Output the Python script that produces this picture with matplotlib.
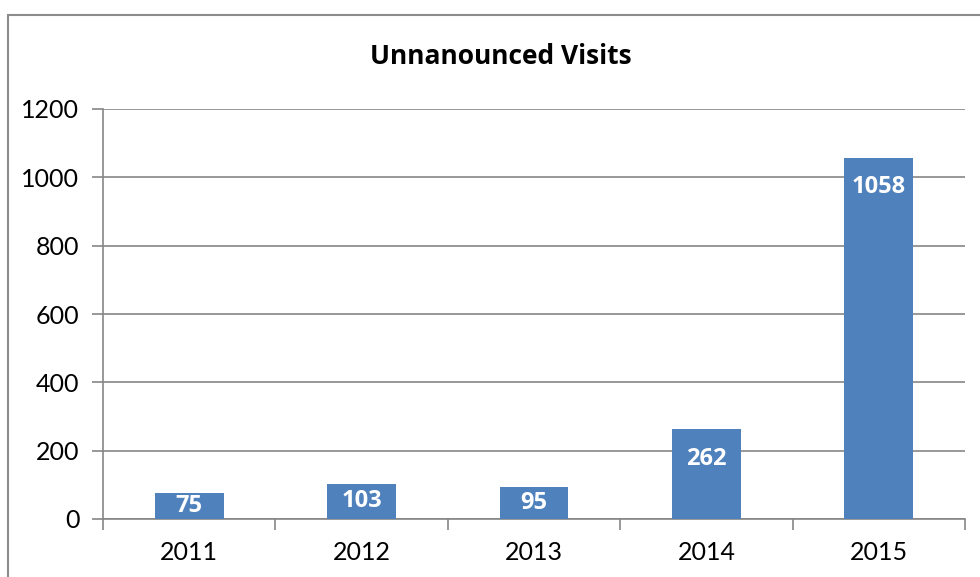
import matplotlib.pyplot as plt
from matplotlib.patches import Rectangle

years = ['2011', '2012', '2013', '2014', '2015']
visits = [75, 103, 95, 262, 1058]

bar_color = '#4F81BD'
grid_color = '#868686'
bold_font = ['Open Sans', 'DejaVu Sans']

plt.rcParams['font.family'] = ['Lato', 'DejaVu Sans']

fig = plt.figure(figsize=(9.8, 5.77), dpi=100)
ax = fig.add_axes([103 / 980, 1 - 519 / 577, (965 - 103) / 980, (519 - 109) / 577])

# chart frame, cut off at the right and bottom edges
fig.patches.append(Rectangle((8 / 980, -0.1), 1.2, 1 - 15 / 577 + 0.1,
                             transform=fig.transFigure, fill=False,
                             edgecolor='#8c8c8c', linewidth=1.5))

x = range(len(years))
bars = ax.bar(x, visits, width=0.4, color=bar_color, zorder=3)

ax.set_xlim(-0.5, len(years) - 0.5)
ax.set_ylim(0, 1200)
ax.set_yticks(range(0, 1201, 200))
ax.set_xticks(list(x))
ax.set_xticklabels(years)
ax.set_xticks([i - 0.5 for i in range(len(years) + 1)], minor=True)

ax.yaxis.grid(True, color=grid_color, linewidth=1.2)
ax.set_axisbelow(True)
for side in ['top', 'right']:
    ax.spines[side].set_visible(False)
for side in ['left', 'bottom']:
    ax.spines[side].set_color(grid_color)
    ax.spines[side].set_linewidth(1.2)

ax.tick_params(axis='y', length=8, width=1.2, color=grid_color, labelsize=18, pad=9)
ax.tick_params(axis='x', which='major', length=0, labelsize=18, pad=16)
ax.tick_params(axis='x', which='minor', length=8, width=1.2, color=grid_color)

# value labels inside the top of each bar
for xi, v in zip(x, visits):
    y = v - min(85, v / 2)
    ax.text(xi, y, str(v), ha='center', va='center', color='white',
            fontsize=17, fontweight='bold', family=bold_font, zorder=4)

fig.text(501 / 980, 1 - 57 / 577, 'Unnanounced Visits', ha='center', va='center',
         fontsize=19, fontweight='bold', family=bold_font)

fig.savefig('out.png', dpi=100)
